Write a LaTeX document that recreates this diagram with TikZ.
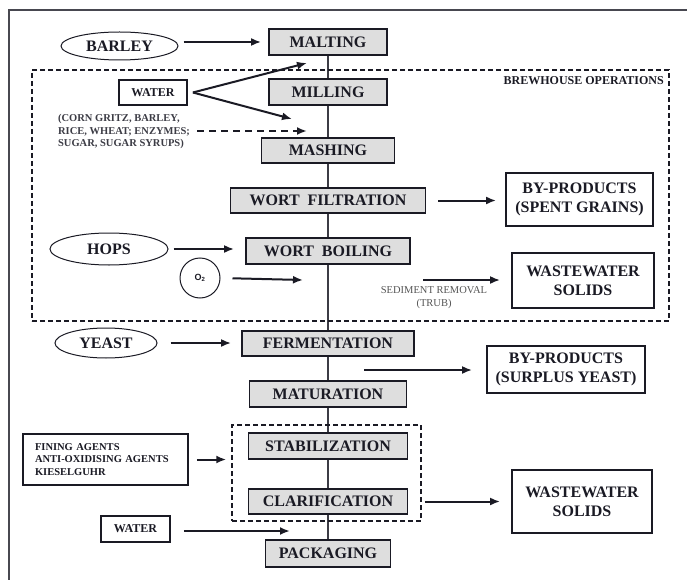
\documentclass[tikz,border=0pt]{standalone}
\usepackage{fontspec}
\setmainfont{Liberation Serif}
\newfontfamily\sansf{Liberation Sans}
\usetikzlibrary{arrows.meta,calc,shapes.geometric}
\definecolor{ink}{HTML}{1A1A24}
\definecolor{boxfill}{HTML}{DEDEDE}
\definecolor{softgray}{HTML}{555555}
\pgfdeclarelayer{background}
\pgfsetlayers{background,main}
\tikzset{
  proc/.style={draw=ink, line width=1.8pt, fill=boxfill, inner sep=0pt,
    font=\fontsize{16}{19}\selectfont\bfseries, text=ink},
  outbox/.style={draw=ink, line width=1.8pt, fill=white, inner sep=0pt, align=center,
    font=\fontsize{16}{19}\selectfont\bfseries, text=ink},
  srcell/.style={draw=ink, line width=1pt, ellipse, inner sep=0pt,
    font=\fontsize{16}{19}\selectfont\bfseries, text=ink},
  smallbox/.style={draw=ink, line width=1.8pt, fill=white, inner sep=0pt,
    font=\fontsize{12}{14}\selectfont\bfseries, text=ink},
  arr/.style={-{Latex[length=10pt,width=8pt]}, line width=2pt, draw=ink},
  grp/.style={draw=ink, line width=1.5pt, dash pattern=on 5pt off 3pt},
  note/.style={inner sep=0pt, align=left, font=\fontsize{10.5}{12.5}\selectfont\bfseries, text=ink!85},
}
\begin{document}
\begin{tikzpicture}[x=1pt,y=-1pt]
\useasboundingbox (0,0) rectangle (687,580);
% outer frame
\draw[line width=1.4pt, ink!80] (9,580) -- (9,10) -- (687,10);

% dashed groups
\node[grp, minimum width=637pt, minimum height=251pt, inner sep=0pt] (brew) at (350.5,195.5) {};
\node[inner sep=0pt, anchor=east, font=\fontsize{12}{14}\selectfont\bfseries, text=ink] (brewlabel) at (664,81) {BREWHOUSE OPERATIONS};
\node[grp, minimum width=189pt, minimum height=96pt, inner sep=0pt] (stabgrp) at (326.5,473) {};

% main process boxes
\node[proc, minimum width=118pt, minimum height=26pt] (malting) at (328,42) {MALTING};
\node[proc, minimum width=118pt, minimum height=26pt] (milling) at (328,92) {MILLING};
\node[proc, minimum width=133pt, minimum height=25pt] (mashing) at (328,150.5) {MASHING};
\node[proc, minimum width=195pt, minimum height=25pt] (filtration) at (328,200.5) {WORT\hspace{0.5em}FILTRATION};
\node[proc, minimum width=164pt, minimum height=26pt] (boiling) at (328,251) {WORT\hspace{0.5em}BOILING};
\node[proc, minimum width=172pt, minimum height=25pt] (fermentation) at (328,343.5) {FERMENTATION};
\node[proc, minimum width=157pt, minimum height=26pt] (maturation) at (328,394) {MATURATION};
\node[proc, minimum width=159pt, minimum height=26pt] (stabilization) at (328,446) {STABILIZATION};
\node[proc, minimum width=159pt, minimum height=25pt] (clarification) at (328,501.5) {CLARIFICATION};
\node[proc, minimum width=125pt, minimum height=27pt] (packaging) at (328,553.5) {PACKAGING};

\begin{pgfonlayer}{background}
\draw[line width=1.6pt, ink!85] (malting) -- (packaging);
\end{pgfonlayer}

% inputs
\node[srcell, minimum width=117pt, minimum height=28pt] (barley) at (119.5,46) {BARLEY};
\node[srcell, minimum width=118pt, minimum height=32pt] (hops) at (109,249) {HOPS};
\node[srcell, minimum width=102pt, minimum height=30pt] (yeast) at (106,343) {YEAST};
\node[draw=ink, line width=1pt, circle, minimum size=40pt, inner sep=0pt,
  font=\sansf\fontsize{9}{10}\selectfont\bfseries, text=ink] (oxygen) at (200,278) {O\textsubscript{2}};
\node[smallbox, minimum width=68pt, minimum height=25pt] (water) at (153,92.5) {WATER};
\node[smallbox, minimum width=69pt, minimum height=26pt] (water2) at (135.5,529) {WATER};
\node[note] (adjuncts) at (124,131.5) {(CORN GRITZ, BARLEY,\\RICE, WHEAT; ENZYMES;\\SUGAR, SUGAR SYRUPS)};
\node[draw=ink, line width=1.8pt, fill=white, inner xsep=12pt, inner ysep=0pt,
  text width=141pt, minimum height=51pt, align=left,
  font=\fontsize{10.5}{12.5}\selectfont\bfseries, text=ink] (fining) at (105.5,459.5)
  {FINING AGENTS\\ANTI-OXIDISING AGENTS\\KIESELGUHR};

% outputs
\node[outbox, minimum width=147pt, minimum height=53pt] (spent) at (579.5,199.5) {BY-PRODUCTS\\(SPENT GRAINS)};
\node[outbox, minimum width=142pt, minimum height=55pt] (waste1) at (583,280.5) {WASTEWATER\\SOLIDS};
\node[outbox, minimum width=158pt, minimum height=47pt] (surplus) at (566,369.5) {BY-PRODUCTS\\(SURPLUS YEAST)};
\node[outbox, minimum width=140pt, minimum height=63pt] (waste2) at (582,501.5) {WASTEWATER\\SOLIDS};
\node[inner sep=0pt, align=center, font=\fontsize{10.5}{12.5}\selectfont, text=softgray] (sediment) at (434,297.5) {SEDIMENT REMOVAL\\(TRUB)};

% free arrow ends
\coordinate (wtipa) at (307,63);
\coordinate (wtipb) at (292,119);
\coordinate (adjstart) at (197,131);
\coordinate (adjtip) at (307,131);
\coordinate (oxtip) at (303,280);
\coordinate (sedstart) at (423,280);
\coordinate (surstart) at (364,370);
\coordinate (w2tip) at (290,531);

% arrows
\draw[arr, shorten <=5pt, shorten >=7pt] (barley.east |- malting.west) -- (malting.west);
\draw[arr] ([xshift=5pt]water.east) -- (wtipa);
\draw[arr] ([xshift=5pt]water.east) -- (wtipb);
\draw[arr, dash pattern=on 7pt off 5pt] (adjstart) -- (adjtip);
\draw[arr, shorten <=12pt, shorten >=9pt] (filtration.east) -- (spent.west |- filtration.east);
\draw[arr, shorten <=5pt, shorten >=11pt] (hops.east) -- (boiling.west |- hops.east);
\draw[arr, shorten <=12pt] (oxygen.east) -- (oxtip);
\draw[arr, shorten >=11pt] (sedstart) -- (waste1.west |- sedstart);
\draw[arr, shorten <=13pt, shorten >=10pt] (yeast.east) -- (fermentation.west |- yeast.east);
\draw[arr, shorten >=14pt] (surstart) -- (surplus.west |- surstart);
\draw[arr, shorten <=8pt, shorten >=5pt] (fining.east) -- (stabgrp.west |- fining.east);
\draw[arr, shorten <=3pt, shorten >=11pt] (stabgrp.east |- clarification.east) -- (waste2.west |- clarification.east);
\draw[arr, shorten <=13pt] ([yshift=-2pt]water2.east) -- (w2tip);
\end{tikzpicture}
\end{document}
